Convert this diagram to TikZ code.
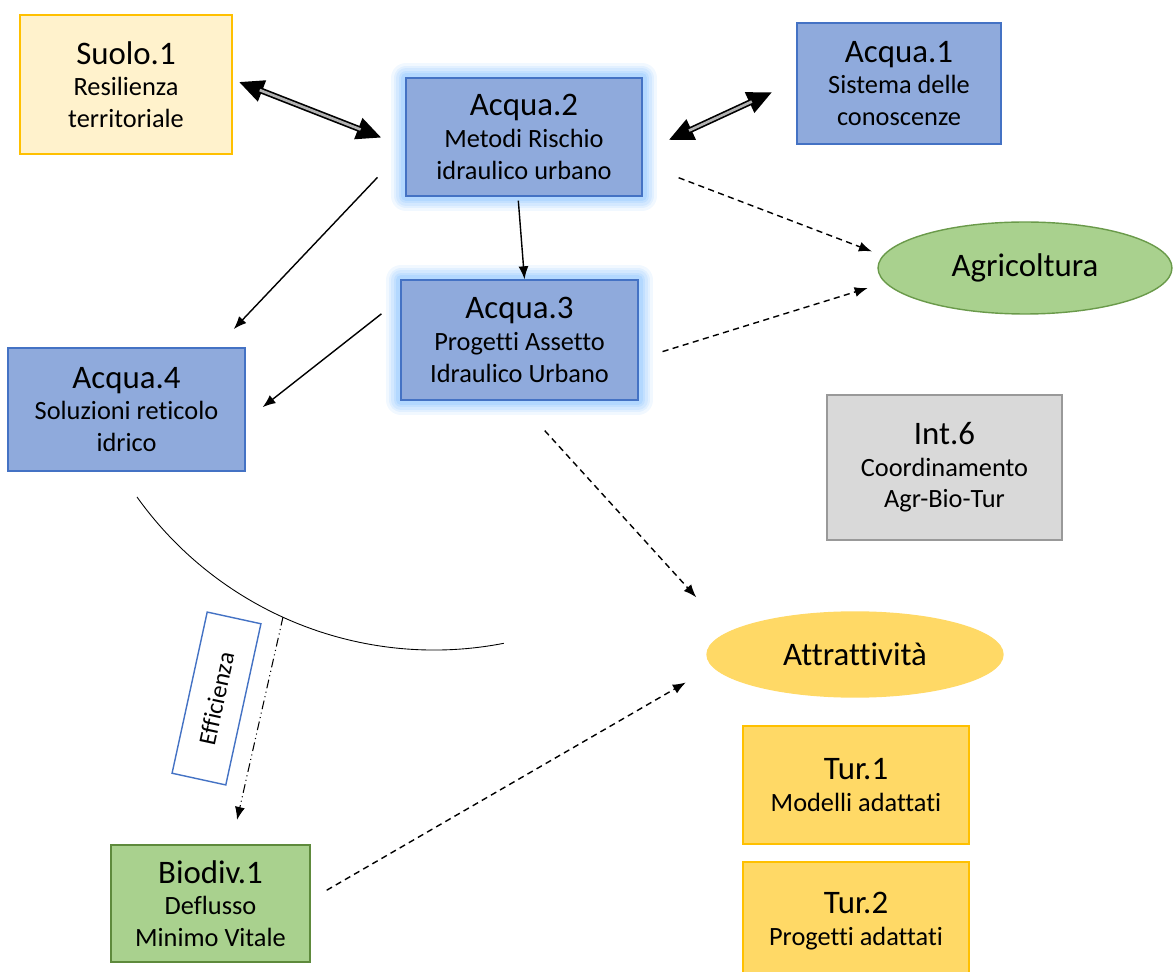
\documentclass[tikz,border=0pt]{standalone}
\usepackage{fontspec}
\setmainfont{Carlito}[Ligatures=NoCommon]
\usetikzlibrary{arrows.meta,shapes.geometric,calc}

\definecolor{acquafill}{HTML}{8FAADC}
\definecolor{acquaedge}{HTML}{4472C4}
\definecolor{glowblue}{HTML}{8CC4FF}
\definecolor{suolofill}{HTML}{FFF2CC}
\definecolor{suoloedge}{HTML}{FFC000}
\definecolor{agrifill}{HTML}{A9D18E}
\definecolor{agriedge}{HTML}{6A9A4A}
\definecolor{bioedge}{HTML}{5E8A3C}
\definecolor{intfill}{HTML}{D9D9D9}
\definecolor{intedge}{HTML}{999999}
\definecolor{turfill}{HTML}{FFD966}
\definecolor{turedge}{HTML}{FFC000}

\newcommand{\boxtitle}[1]{{\fontsize{18.7}{18}\selectfont #1}}

\begin{document}
\begin{tikzpicture}[x=0.02cm, y=-0.02cm,
    box/.style={draw, line width=0.8pt, align=center, inner sep=2pt,
        font=\fontsize{15}{18}\selectfont},
    acquabox/.style={box, fill=acquafill, draw=acquaedge},
    glow/.style={
        preaction={draw=glowblue, line width=0.6cm, opacity=0.12, line join=round},
        preaction={draw=glowblue, line width=0.5cm, opacity=0.15, line join=round},
        preaction={draw=glowblue, line width=0.4cm, opacity=0.18, line join=round},
        preaction={draw=glowblue, line width=0.3cm, opacity=0.22, line join=round},
        preaction={draw=glowblue, line width=0.2cm, opacity=0.3, line join=round}},
    oval/.style={ellipse, draw, line width=0.8pt, inner sep=0pt,
        font=\fontsize{18.7}{18}\selectfont},
    solidarr/.style={-{Latex[length=0.26cm,width=0.2cm]}, line width=0.8pt},
    dasharr/.style={solidarr, dash pattern=on 3.5pt off 2.5pt},
    effarr/.style={solidarr, line width=0.6pt,
        dash pattern=on 5pt off 2pt on 0.6pt off 2pt on 0.6pt off 2pt},
    dblarr/.style={line width=3.4pt,
        {Triangle[length=0.5cm,width=0.42cm]}-{Triangle[length=0.5cm,width=0.42cm]}},
    dblcore/.style={line width=1.5pt, draw=gray!60},
]
    \useasboundingbox (0,0) rectangle (1173,972);

    % Boxes
    \node[box, fill=suolofill, draw=suoloedge, minimum width=4.24cm, minimum height=2.78cm]
        (suolo) at (126,84.5) {\boxtitle{Suolo.1}\\Resilienza\\territoriale};
    \node[acquabox, glow, minimum width=4.72cm, minimum height=2.36cm]
        (acqua2) at (524,137) {\boxtitle{Acqua.2}\\Metodi Rischio\\idraulico urbano};
    \node[acquabox, minimum width=4.08cm, minimum height=2.42cm]
        (acqua1) at (899,83.5) {\boxtitle{Acqua.1}\\Sistema delle\\conoscenze};
    \node[acquabox, glow, minimum width=4.74cm, minimum height=2.4cm]
        (acqua3) at (519.5,340) {\boxtitle{Acqua.3}\\Progetti Assetto\\Idraulico Urbano};
    \node[acquabox, minimum width=4.74cm, minimum height=2.46cm]
        (acqua4) at (126.5,409.5) {\boxtitle{Acqua.4}\\Soluzioni reticolo\\idrico};
    \node[box, fill=intfill, draw=intedge, minimum width=4.7cm, minimum height=2.9cm]
        (int6) at (944.5,467.5) {\boxtitle{Int.6}\\Coordinamento\\Agr-Bio-Tur};
    \node[box, fill=turfill, draw=turedge, minimum width=4.52cm, minimum height=2.36cm]
        (tur1) at (856,785) {\boxtitle{Tur.1}\\Modelli adattati};
    \node[box, fill=turfill, draw=turedge, minimum width=4.52cm, minimum height=2.36cm]
        (tur2) at (856,921) {\boxtitle{Tur.2}\\Progetti adattati};
    \node[box, fill=agrifill, draw=bioedge, minimum width=3.98cm, minimum height=2.34cm]
        (biodiv) at (210.5,903.5) {\boxtitle{Biodiv.1}\\Deflusso\\Minimo Vitale};

    % Ovals
    \node[oval, fill=agrifill, draw=agriedge, minimum width=5.88cm, minimum height=1.84cm]
        (agri) at (1025,268) {Agricoltura};
    \node[oval, fill=turfill, draw=turfill, minimum width=5.92cm, minimum height=1.7cm]
        (attr) at (855,654.5) {Attrattività};

    % Efficienza
    \draw[line width=0.5pt] (137,497) arc[start angle=215.5, end angle=281, radius=7.3cm];
    \coordinate (arcmark) at (283,617);
    \node[box, fill=white, draw=acquaedge, rotate=77.7, minimum width=3.3cm, minimum height=1.1cm,
        font=\fontsize{14}{16}\selectfont]
        (eff) at (216.5,698.5) {Efficienza};

    % Double arrows
    \draw[dblarr, shorten <=0.13cm, shorten >=0.51cm]
        ($(suolo.east)+(0,-5)$) -- ($(acqua2.west)+(0,10)$);
    \draw[dblcore, shorten <=0.58cm, shorten >=0.96cm]
        ($(suolo.east)+(0,-5)$) -- ($(acqua2.west)+(0,10)$);
    \draw[dblarr, shorten <=0.57cm, shorten >=0.53cm]
        ($(acqua2.east)+(0,15)$) -- ($(acqua1.west)+(0,-2.5)$);
    \draw[dblcore, shorten <=1.02cm, shorten >=0.98cm]
        ($(acqua2.east)+(0,15)$) -- ($(acqua1.west)+(0,-2.5)$);

    % Solid arrows
    \draw[solidarr, shorten <=0.81cm, shorten >=0.5cm]
        ($(acqua2.west)+(0,11)$) -- ($(acqua4.north)+(90,0)$);
    \draw[solidarr, shorten <=0.08cm]
        ($(acqua2.south)+(-6,0)$) -- ($(acqua3.north)+(5,0)$);
    \draw[solidarr, shorten <=0.48cm, shorten >=0.43cm]
        ($(acqua3.west)+(0,-41)$) -- ($(acqua4.east)+(0,11)$);

    % Dashed arrows
    \draw[dasharr, shorten <=0.77cm, shorten >=0.23cm]
        ($(acqua2.east)+(0,27)$) -- (agri.175);
    \draw[dasharr, shorten <=0.5cm, shorten >=0.36cm]
        ($(acqua3.east)+(0,19)$) -- (agri.186);
    \draw[dasharr, shorten <=0.81cm, shorten >=0.94cm]
        ($(acqua3.south)+(-2,0)$) -- (attr.170);
    \draw[dasharr, shorten <=0.37cm, shorten >=0.62cm]
        ($(biodiv.east)+(0,-4)$) -- (attr.185);

    % Dash-dot arrow
    \draw[effarr, shorten >=0.5cm] (arcmark) -- ($(biodiv.north)+(21,0)$);
\end{tikzpicture}
\end{document}
